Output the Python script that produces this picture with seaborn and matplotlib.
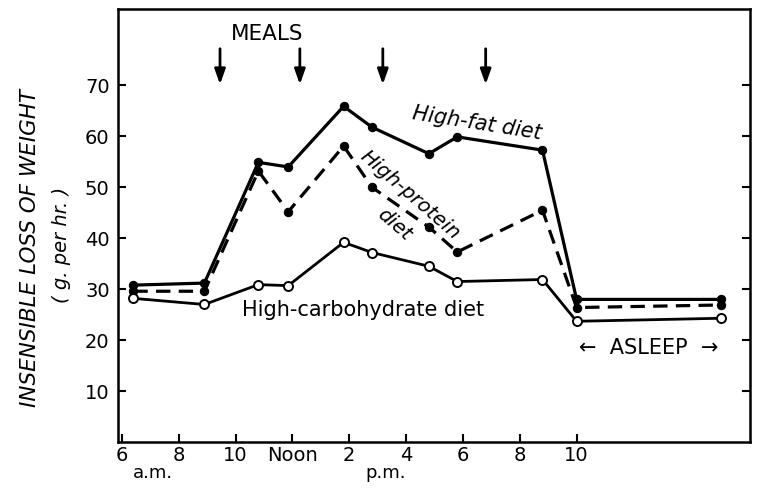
import matplotlib
matplotlib.use("Agg")
import matplotlib.pyplot as plt
import seaborn as sns

# ---- data ----
hours = [6.4, 8.9, 10.8, 11.85, 13.8, 14.8, 16.8, 17.8, 20.8, 22.0, 27.1]
high_fat = [30.8, 31.2, 54.9, 54.0, 65.9, 61.8, 56.6, 59.9, 57.3, 28.0, 28.0]
high_protein = [29.6, 29.6, 53.2, 45.2, 58.1, 50.0, 42.2, 37.3, 45.5, 26.4, 26.9]
high_carb = [28.2, 27.0, 30.9, 30.7, 39.2, 37.2, 34.5, 31.5, 31.9, 23.7, 24.3]
tick_hours = [6, 8, 10, 12, 14, 16, 18, 20, 22]
tick_labels = ["6", "8", "10", "Noon", "2", "4", "6", "8", "10"]
y_ticks = [10, 20, 30, 40, 50, 60, 70]
meal_hours = [9.45, 12.26, 15.18, 18.8]

sns.set_style("ticks")
plt.rcParams['font.family'] = ['DejaVu Sans']
plt.rcParams['text.color'] = 'black'
plt.rcParams['xtick.color'] = 'black'
plt.rcParams['ytick.color'] = 'black'

fig = plt.figure(figsize=(7.59, 4.93), dpi=100)
ax = fig.add_axes([0.1555, 0.1034, 0.8325, 0.8783])

sns.lineplot(x=hours, y=high_fat, ax=ax, color='black', lw=2.3,
             marker='o', markersize=6, markeredgecolor='black',
             markerfacecolor='black', sort=False)
sns.lineplot(x=hours, y=high_protein, ax=ax, color='black', lw=2.3,
             linestyle='--', marker='o', markersize=6,
             markeredgecolor='black', markerfacecolor='black', sort=False)
ax.lines[-1].set_dashes([4.5, 2.6])
sns.lineplot(x=hours, y=high_carb, ax=ax, color='black', lw=2.0,
             marker='o', markersize=6.5, markeredgecolor='black',
             markeredgewidth=1.4, markerfacecolor='white', sort=False)

ax.set_xlim(5.86, 28.1)
ax.set_ylim(0, 85)
ax.set_xticks(tick_hours)
ax.set_xticklabels(tick_labels)
ax.set_yticks(y_ticks)
ax.tick_params(axis='both', direction='in', length=6, width=1.5,
               labelsize=14, colors='black')
ax.tick_params(axis='x', pad=3)
ax.tick_params(axis='y', pad=6, right=True, labelright=False)
for s in ax.spines.values():
    s.set_visible(True)
    s.set_linewidth(1.8)
    s.set_color('black')
ax.set_xlabel('')
ax.set_ylabel('')

# y label (two lines, italic)
ax.text(-0.139, 0.448, 'INSENSIBLE LOSS OF WEIGHT', transform=ax.transAxes,
        rotation=90, ha='center', va='center', fontsize=15.5, style='italic')
ax.text(-0.089, 0.455, '( g. per hr. )', transform=ax.transAxes,
        rotation=90, ha='center', va='center', fontsize=14, style='italic')

# a.m. / p.m.
ax.text(7.09, -6.1, 'a.m.', ha='center', va='center', fontsize=13, clip_on=False)
ax.text(15.28, -6.1, 'p.m.', ha='center', va='center', fontsize=13, clip_on=False)

# meals
ax.text(11.1, 80.0, 'MEALS', ha='center', va='center', fontsize=15.5)
for h in meal_hours:
    ax.annotate('', xy=(h, 70.2), xytext=(h, 77.2),
                arrowprops=dict(arrowstyle='-|>,head_length=0.9,head_width=0.32',
                                color='black', lw=2, shrinkA=0, shrinkB=0))

# series labels
ax.text(18.5, 62.5, 'High-fat diet', ha='center', va='center', fontsize=15,
        style='italic', rotation=-9)
ax.text(16.15, 48.5, 'High-protein', ha='center', va='center', fontsize=14.5,
        style='italic', rotation=-41)
ax.text(15.6, 42.7, 'diet', ha='center', va='center', fontsize=14.5,
        style='italic', rotation=-41)
ax.text(14.5, 26.0, 'High-carbohydrate diet', ha='center', va='center',
        fontsize=15)
ax.text(24.53, 18.5, '\u2190  ASLEEP  \u2192', ha='center', va='center',
        fontsize=15)

fig.savefig('out.png', dpi=100)
